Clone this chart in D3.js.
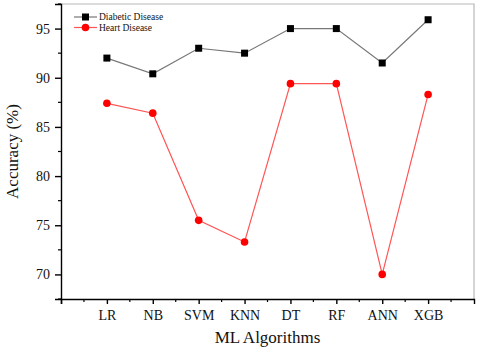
<!DOCTYPE html>
<meta charset="utf-8">
<style>
body { margin: 0; background: #fff; }
text { font-family: "Liberation Serif", "Times New Roman", serif; fill: #111; }
.axis path, .axis line { stroke: #000; stroke-width: 1.4px; }
</style>
<svg></svg>
<script src="https://cdn.jsdelivr.net/npm/d3@7"></script>
<script>

var algorithms = ["LR", "NB", "SVM", "KNN", "DT", "RF", "ANN", "XGB"];
var diabetic = [92.0, 90.4, 93.0, 92.5, 95.0, 95.0, 91.5, 95.9];
var heart = [87.4, 86.4, 75.5, 73.3, 89.4, 89.4, 70.0, 88.3];
var yTicks = [70, 75, 80, 85, 90, 95];
var seriesNames = ["Diabetic Disease", "Heart Disease"];

var width = 480,
    height = 351,
    margin = {top: 4, right: 6, bottom: 52, left: 61};

var svg = d3.select("svg")
    .attr("width", width)
    .attr("height", height);

var x = d3.scaleLinear()
    .domain([0, algorithms.length + 1])
    .range([margin.left, width - margin.right]);

var y = d3.scaleLinear()
    .domain([67.5, 97.5])
    .range([height - margin.bottom, margin.top]);

// frame (top and right)
svg.append("path")
    .attr("d", "M" + x.range()[0] + "," + y.range()[1] + "H" + x.range()[1] + "V" + y.range()[0])
    .attr("fill", "none")
    .attr("stroke", "#b8b8b8")
    .attr("stroke-width", 1.2);

// minor ticks
var xMinor = d3.range(0.5, algorithms.length + 1, 1);
svg.append("g")
  .selectAll("line")
  .data(xMinor)
  .enter().append("line")
    .attr("x1", function(d) { return x(d); })
    .attr("x2", function(d) { return x(d); })
    .attr("y1", y.range()[0])
    .attr("y2", y.range()[0] + 3)
    .attr("stroke", "#000")
    .attr("stroke-width", 1.2);

var yMinor = [67.5, 72.5, 77.5, 82.5, 87.5, 92.5, 97.5];
svg.append("g")
  .selectAll("line")
  .data(yMinor)
  .enter().append("line")
    .attr("x1", x.range()[0])
    .attr("x2", x.range()[0] - 3)
    .attr("y1", function(d) { return y(d); })
    .attr("y2", function(d) { return y(d); })
    .attr("stroke", "#000")
    .attr("stroke-width", 1.2);

var xAxis = svg.append("g")
    .attr("class", "axis")
    .attr("transform", "translate(0," + y.range()[0] + ")")
    .call(d3.axisBottom(x)
        .tickValues(d3.range(0, algorithms.length + 1))
        .tickSize(5)
        .tickPadding(6)
        .tickFormat(function(d) { return algorithms[d - 1] || ""; }));
xAxis.selectAll("text").style("font-size", "14px");

var yAxis = svg.append("g")
    .attr("class", "axis")
    .attr("transform", "translate(" + x.range()[0] + ",0)")
    .call(d3.axisLeft(y)
        .tickValues(yTicks)
        .tickSize(6)
        .tickPadding(5));
yAxis.selectAll("text").style("font-size", "14px");

// axis titles
svg.append("text")
    .attr("x", (x.range()[0] + x.range()[1]) / 2)
    .attr("y", 343)
    .attr("text-anchor", "middle")
    .style("font-size", "17px")
    .text("ML Algorithms");

svg.append("text")
    .attr("transform", "translate(18," + (y.range()[0] + y.range()[1]) / 2 + ") rotate(-90)")
    .attr("text-anchor", "middle")
    .style("font-size", "17px")
    .text("Accuracy (%)");

var line = d3.line()
    .x(function(d, i) { return x(i + 1); })
    .y(function(d) { return y(d); });

// diabetic
svg.append("path")
    .datum(diabetic)
    .attr("d", line)
    .attr("fill", "none")
    .attr("stroke", "#777")
    .attr("stroke-width", 1.2);

svg.append("g")
  .selectAll("rect")
  .data(diabetic)
  .enter().append("rect")
    .attr("x", function(d, i) { return x(i + 1) - 3.5; })
    .attr("y", function(d) { return y(d) - 3.5; })
    .attr("width", 7)
    .attr("height", 7)
    .attr("fill", "#000");

// heart
svg.append("path")
    .datum(heart)
    .attr("d", line)
    .attr("fill", "none")
    .attr("stroke", "#ff5555")
    .attr("stroke-width", 1.2);

svg.append("g")
  .selectAll("circle")
  .data(heart)
  .enter().append("circle")
    .attr("cx", function(d, i) { return x(i + 1); })
    .attr("cy", function(d) { return y(d); })
    .attr("r", 3.8)
    .attr("fill", "#ff0000");

// legend
var legend = svg.append("g")
  .selectAll("g")
  .data(seriesNames)
  .enter().append("g")
    .attr("transform", function(d, i) { return "translate(74," + (17 + i * 10.5) + ")"; });

legend.append("line")
    .attr("x1", 0)
    .attr("x2", 23)
    .attr("stroke", function(d, i) { return i == 0 ? "#777" : "#ff5555"; })
    .attr("stroke-width", 1.2);

legend.each(function(d, i) {
  var g = d3.select(this);
  if (i == 0) {
    g.append("rect").attr("x", 8).attr("y", -3.5).attr("width", 7).attr("height", 7).attr("fill", "#000");
  } else {
    g.append("circle").attr("cx", 11.5).attr("r", 3.8).attr("fill", "#ff0000");
  }
});

legend.append("text")
    .attr("x", 25)
    .attr("dy", "0.35em")
    .style("font-size", "9.5px")
    .text(function(d) { return d; });

</script>
